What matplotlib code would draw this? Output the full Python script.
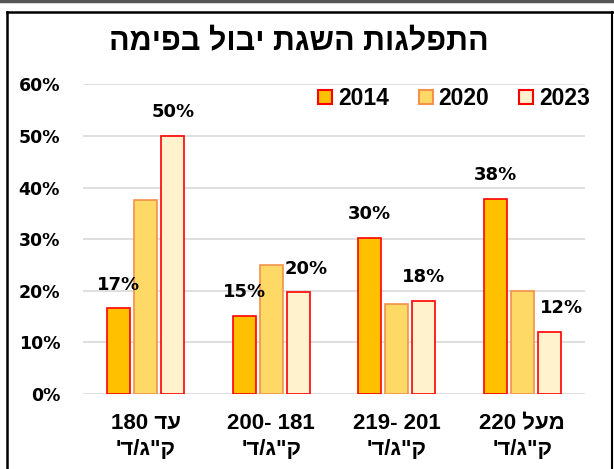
import re
import numpy as np
import matplotlib.pyplot as plt
from matplotlib.patches import Patch
from matplotlib.ticker import FuncFormatter

# נתונים
years = ['2014', '2020', '2023']
categories = ['עד 180', '181 -200', '201 -219', 'מעל 220']
unit = 'ק"ג/ד\''
val_2014 = [0.166, 0.151, 0.303, 0.378]
val_2020 = [0.375, 0.250, 0.175, 0.200]
val_2023 = [0.500, 0.197, 0.180, 0.120]
title = 'התפלגות השגת יבול בפימה'


def vis(s):
    # matplotlib has no bidi: reverse the string, keep digit runs left-to-right
    return re.sub(r'\d+', lambda m: m.group()[::-1], s[::-1])


fills = ['#FFC000', '#FFD966', '#FFF2CC']
edges = ['#FF0000', '#F4914A', '#FF0000']
series = [val_2014, val_2020, val_2023]

heb_font = ['Liberation Sans', 'DejaVu Sans']

fig = plt.figure(figsize=(6.14, 4.69), dpi=100)
ax = fig.add_axes([0.1352, 0.1599, 0.8176, 0.6604])

x = np.arange(len(categories))
offs = [-0.215, 0, 0.215]
bars = []
for vals, off, fc, ec in zip(series, offs, fills, edges):
    b = ax.bar(x + off, vals, width=0.18, color=fc, edgecolor=ec, linewidth=1.2, zorder=3)
    bars.append(b)

# תוויות נתונים (2014 ו-2023 בלבד)
shift_2023 = [0, 6, 0, 9]
for rect, v in zip(bars[0], val_2014):
    ax.annotate(f'{round(v * 100)}%', (rect.get_x() + rect.get_width() / 2, v),
                xytext=(0, 17), textcoords='offset points', ha='center', va='center',
                fontsize=13, fontweight='bold', family='DejaVu Sans')
for rect, v, dx in zip(bars[2], val_2023, shift_2023):
    ax.annotate(f'{round(v * 100)}%', (rect.get_x() + rect.get_width() / 2, v),
                xytext=(dx, 17), textcoords='offset points', ha='center', va='center',
                fontsize=13, fontweight='bold', family='DejaVu Sans')

ax.set_xlim(-0.5, 3.5)
ax.set_ylim(0, 0.6)
ax.set_yticks(np.arange(0, 0.61, 0.1))
ax.yaxis.set_major_formatter(FuncFormatter(lambda v, p: f'{v * 100:.0f}%'))
ax.grid(axis='y', color='#D9D9D9', linewidth=1.2, zorder=0)
for s in ax.spines.values():
    s.set_visible(False)
ax.tick_params(axis='y', length=0, pad=16.5, labelsize=12.5)
for t in ax.get_yticklabels():
    t.set_fontweight('bold')
    t.set_family('DejaVu Sans')

ax.set_xticks(x)
ax.set_xticklabels([vis(c) + '\n' + vis(unit) for c in categories],
                   fontsize=16, fontweight='bold', family=heb_font, linespacing=1.3)
ax.tick_params(axis='x', length=0, pad=14)

handles = [Patch(facecolor=fc, edgecolor=ec, linewidth=1.5) for fc, ec in zip(fills, edges)]
ax.legend(handles, years, loc='center right', bbox_to_anchor=(1.01, 0.954), ncol=3,
          frameon=False, handlelength=0.62, handleheight=0.62, handletextpad=0.25,
          columnspacing=1.3, prop={'family': heb_font, 'weight': 'bold', 'size': 16.5},
          borderaxespad=0, borderpad=0)

fig.text(0.487, 0.91, vis(title), ha='center', va='center', fontsize=22,
         fontweight='bold', family=heb_font)

# מסגרת
fig.add_artist(plt.Line2D([0, 1], [0.997, 0.997], color='#555555', linewidth=2.5))
fig.add_artist(plt.Line2D([0.012, 1], [0.975, 0.975], color='black', linewidth=1.8))
fig.add_artist(plt.Line2D([0.012, 0.012], [0, 0.975], color='black', linewidth=1.8))
fig.add_artist(plt.Line2D([0.997, 0.997], [0, 0.975], color='black', linewidth=1.5))

fig.savefig('out.png', dpi=100)
